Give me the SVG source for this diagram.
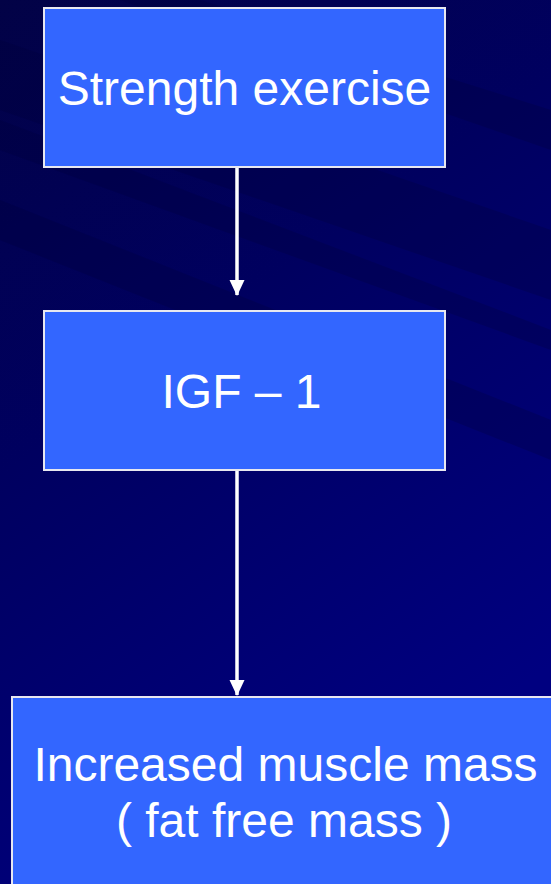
<svg xmlns="http://www.w3.org/2000/svg" width="551" height="884" viewBox="0 0 551 884">
  <style>
    .box { fill: #3366ff; stroke: #e8e8f0; stroke-width: 2; }
    .label { font-family: "Liberation Sans", Arial, sans-serif; font-size: 48px; fill: #ffffff; text-anchor: middle; }
    .link { stroke: #ffffff; stroke-width: 3.5; fill: none; marker-end: url(#head); }
    .band { fill: #000038; }
  </style>
  <defs>
    <linearGradient id="bg" x1="0" y1="0" x2="0.45" y2="1">
      <stop offset="0" stop-color="#020246"/>
      <stop offset="0.45" stop-color="#000060"/>
      <stop offset="1" stop-color="#000080"/>
    </linearGradient>
    <marker id="head" markerUnits="userSpaceOnUse" markerWidth="16" markerHeight="16" viewBox="0 0 16 16" refX="15" refY="8" orient="auto">
      <path d="M0,0.5 L16,8 L0,15.5 Z" fill="#ffffff"/>
    </marker>
  </defs>

  <!-- backdrop with soft diagonal bands -->
  <rect x="0" y="0" width="551" height="884" fill="url(#bg)"/>
  <g opacity="0.25">
    <polygon class="band" points="0,40 551,230 551,300 0,110"/>
    <polygon class="band" points="0,200 551,420 551,460 0,240"/>
    <polygon class="band" points="0,120 551,330 551,350 0,150"/>
    <polygon class="band" points="200,0 551,110 551,150 120,0"/>
  </g>

  <!-- connectors -->
  <g id="connectors">
    <line class="link" x1="237" y1="168" x2="237" y2="295"/>
    <line class="link" x1="237" y1="471" x2="237" y2="695"/>
  </g>

  <g id="node-strength">
    <rect class="box" x="44" y="8" width="401" height="159"/>
    <text class="label" x="244.5" y="105">Strength exercise</text>
  </g>

  <g id="node-igf">
    <rect class="box" x="44" y="311" width="401" height="159"/>
    <text class="label" x="241.5" y="408">IGF – 1</text>
  </g>

  <g id="node-muscle">
    <rect class="box" x="12" y="697" width="560" height="200"/>
    <text class="label" x="285.5" y="781">Increased muscle mass</text>
    <text class="label" x="284" y="837">( fat free mass )</text>
  </g>
</svg>
